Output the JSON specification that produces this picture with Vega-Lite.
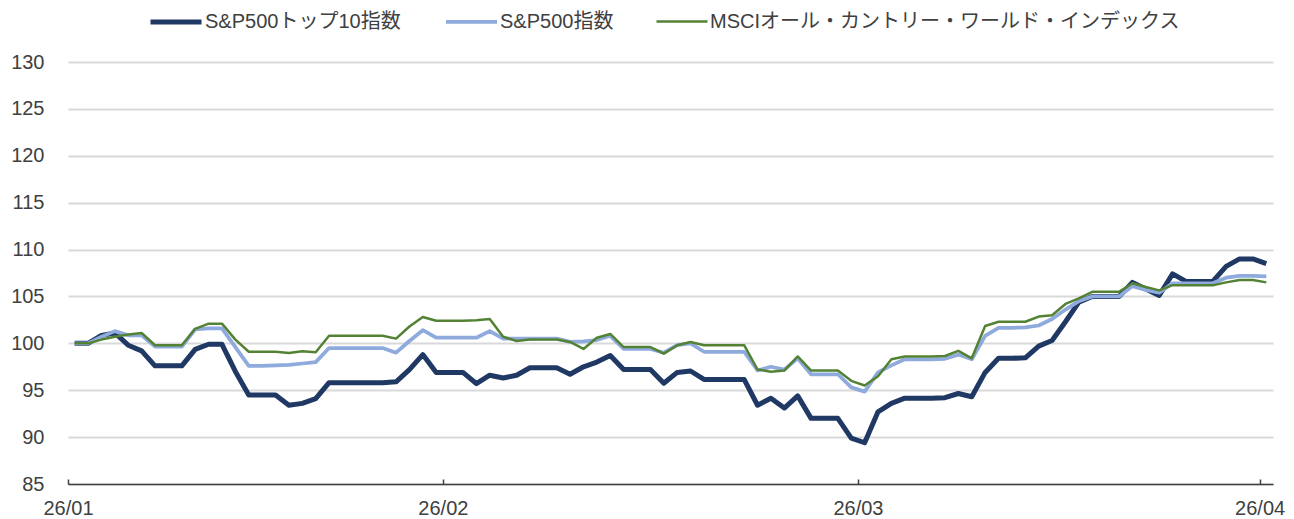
{
"$schema": "https://vega.github.io/schema/vega-lite/v6.json",
"width": 1205, "height": 422,
"autosize": "none",
"padding": {"left": 68, "top": 62, "right": 21, "bottom": 35},
"background": "white",
"config": {"view": {"stroke": null}, "font": "Liberation Sans, Arial, Noto Sans CJK JP"},
"data": {"values": [
{"t":0,"s":"S&P500トップ10指数","v":100.0},{"t":1,"s":"S&P500トップ10指数","v":100.0},{"t":2,"s":"S&P500トップ10指数","v":100.85},{"t":3,"s":"S&P500トップ10指数","v":101.1},{"t":4,"s":"S&P500トップ10指数","v":99.8},{"t":5,"s":"S&P500トップ10指数","v":99.2},{"t":6,"s":"S&P500トップ10指数","v":97.6},{"t":7,"s":"S&P500トップ10指数","v":97.6},{"t":8,"s":"S&P500トップ10指数","v":97.6},{"t":9,"s":"S&P500トップ10指数","v":99.35},
{"t":10,"s":"S&P500トップ10指数","v":99.9},{"t":11,"s":"S&P500トップ10指数","v":99.9},{"t":12,"s":"S&P500トップ10指数","v":97.0},{"t":13,"s":"S&P500トップ10指数","v":94.5},{"t":14,"s":"S&P500トップ10指数","v":94.5},{"t":15,"s":"S&P500トップ10指数","v":94.5},{"t":16,"s":"S&P500トップ10指数","v":93.4},{"t":17,"s":"S&P500トップ10指数","v":93.6},{"t":18,"s":"S&P500トップ10指数","v":94.1},{"t":19,"s":"S&P500トップ10指数","v":95.8},
{"t":20,"s":"S&P500トップ10指数","v":95.8},{"t":21,"s":"S&P500トップ10指数","v":95.8},{"t":22,"s":"S&P500トップ10指数","v":95.8},{"t":23,"s":"S&P500トップ10指数","v":95.8},{"t":24,"s":"S&P500トップ10指数","v":95.9},{"t":25,"s":"S&P500トップ10指数","v":97.2},{"t":26,"s":"S&P500トップ10指数","v":98.8},{"t":27,"s":"S&P500トップ10指数","v":96.9},{"t":28,"s":"S&P500トップ10指数","v":96.9},{"t":29,"s":"S&P500トップ10指数","v":96.9},
{"t":30,"s":"S&P500トップ10指数","v":95.7},{"t":31,"s":"S&P500トップ10指数","v":96.6},{"t":32,"s":"S&P500トップ10指数","v":96.3},{"t":33,"s":"S&P500トップ10指数","v":96.6},{"t":34,"s":"S&P500トップ10指数","v":97.4},{"t":35,"s":"S&P500トップ10指数","v":97.4},{"t":36,"s":"S&P500トップ10指数","v":97.4},{"t":37,"s":"S&P500トップ10指数","v":96.7},{"t":38,"s":"S&P500トップ10指数","v":97.5},{"t":39,"s":"S&P500トップ10指数","v":98.0},
{"t":40,"s":"S&P500トップ10指数","v":98.7},{"t":41,"s":"S&P500トップ10指数","v":97.2},{"t":42,"s":"S&P500トップ10指数","v":97.2},{"t":43,"s":"S&P500トップ10指数","v":97.2},{"t":44,"s":"S&P500トップ10指数","v":95.75},{"t":45,"s":"S&P500トップ10指数","v":96.9},{"t":46,"s":"S&P500トップ10指数","v":97.05},{"t":47,"s":"S&P500トップ10指数","v":96.15},{"t":48,"s":"S&P500トップ10指数","v":96.15},{"t":49,"s":"S&P500トップ10指数","v":96.15},
{"t":50,"s":"S&P500トップ10指数","v":96.15},{"t":51,"s":"S&P500トップ10指数","v":93.4},{"t":52,"s":"S&P500トップ10指数","v":94.15},{"t":53,"s":"S&P500トップ10指数","v":93.1},{"t":54,"s":"S&P500トップ10指数","v":94.4},{"t":55,"s":"S&P500トップ10指数","v":92.0},{"t":56,"s":"S&P500トップ10指数","v":92.0},{"t":57,"s":"S&P500トップ10指数","v":92.0},{"t":58,"s":"S&P500トップ10指数","v":89.9},{"t":59,"s":"S&P500トップ10指数","v":89.4},
{"t":60,"s":"S&P500トップ10指数","v":92.7},{"t":61,"s":"S&P500トップ10指数","v":93.6},{"t":62,"s":"S&P500トップ10指数","v":94.15},{"t":63,"s":"S&P500トップ10指数","v":94.15},{"t":64,"s":"S&P500トップ10指数","v":94.15},{"t":65,"s":"S&P500トップ10指数","v":94.2},{"t":66,"s":"S&P500トップ10指数","v":94.65},{"t":67,"s":"S&P500トップ10指数","v":94.3},{"t":68,"s":"S&P500トップ10指数","v":96.9},{"t":69,"s":"S&P500トップ10指数","v":98.4},
{"t":70,"s":"S&P500トップ10指数","v":98.4},{"t":71,"s":"S&P500トップ10指数","v":98.45},{"t":72,"s":"S&P500トップ10指数","v":99.7},{"t":73,"s":"S&P500トップ10指数","v":100.3},{"t":74,"s":"S&P500トップ10指数","v":102.3},{"t":75,"s":"S&P500トップ10指数","v":104.4},{"t":76,"s":"S&P500トップ10指数","v":105.0},{"t":77,"s":"S&P500トップ10指数","v":105.0},{"t":78,"s":"S&P500トップ10指数","v":105.0},{"t":79,"s":"S&P500トップ10指数","v":106.5},
{"t":80,"s":"S&P500トップ10指数","v":105.8},{"t":81,"s":"S&P500トップ10指数","v":105.1},{"t":82,"s":"S&P500トップ10指数","v":107.4},{"t":83,"s":"S&P500トップ10指数","v":106.6},{"t":84,"s":"S&P500トップ10指数","v":106.6},{"t":85,"s":"S&P500トップ10指数","v":106.6},{"t":86,"s":"S&P500トップ10指数","v":108.2},{"t":87,"s":"S&P500トップ10指数","v":109.0},{"t":88,"s":"S&P500トップ10指数","v":109.0},{"t":89,"s":"S&P500トップ10指数","v":108.5},
{"t":0,"s":"S&P500指数","v":100.0},{"t":1,"s":"S&P500指数","v":100.0},{"t":2,"s":"S&P500指数","v":100.7},{"t":3,"s":"S&P500指数","v":101.3},{"t":4,"s":"S&P500指数","v":100.85},{"t":5,"s":"S&P500指数","v":100.85},{"t":6,"s":"S&P500指数","v":99.65},{"t":7,"s":"S&P500指数","v":99.65},{"t":8,"s":"S&P500指数","v":99.65},{"t":9,"s":"S&P500指数","v":101.5},
{"t":10,"s":"S&P500指数","v":101.6},{"t":11,"s":"S&P500指数","v":101.6},{"t":12,"s":"S&P500指数","v":99.6},{"t":13,"s":"S&P500指数","v":97.6},{"t":14,"s":"S&P500指数","v":97.6},{"t":15,"s":"S&P500指数","v":97.65},{"t":16,"s":"S&P500指数","v":97.7},{"t":17,"s":"S&P500指数","v":97.85},{"t":18,"s":"S&P500指数","v":98.0},{"t":19,"s":"S&P500指数","v":99.5},
{"t":20,"s":"S&P500指数","v":99.5},{"t":21,"s":"S&P500指数","v":99.5},{"t":22,"s":"S&P500指数","v":99.5},{"t":23,"s":"S&P500指数","v":99.5},{"t":24,"s":"S&P500指数","v":99.0},{"t":25,"s":"S&P500指数","v":100.25},{"t":26,"s":"S&P500指数","v":101.4},{"t":27,"s":"S&P500指数","v":100.6},{"t":28,"s":"S&P500指数","v":100.6},{"t":29,"s":"S&P500指数","v":100.6},
{"t":30,"s":"S&P500指数","v":100.6},{"t":31,"s":"S&P500指数","v":101.3},{"t":32,"s":"S&P500指数","v":100.5},{"t":33,"s":"S&P500指数","v":100.5},{"t":34,"s":"S&P500指数","v":100.5},{"t":35,"s":"S&P500指数","v":100.5},{"t":36,"s":"S&P500指数","v":100.5},{"t":37,"s":"S&P500指数","v":100.15},{"t":38,"s":"S&P500指数","v":100.2},{"t":39,"s":"S&P500指数","v":100.35},
{"t":40,"s":"S&P500指数","v":100.8},{"t":41,"s":"S&P500指数","v":99.4},{"t":42,"s":"S&P500指数","v":99.4},{"t":43,"s":"S&P500指数","v":99.4},{"t":44,"s":"S&P500指数","v":99.0},{"t":45,"s":"S&P500指数","v":99.8},{"t":46,"s":"S&P500指数","v":100.0},{"t":47,"s":"S&P500指数","v":99.1},{"t":48,"s":"S&P500指数","v":99.1},{"t":49,"s":"S&P500指数","v":99.1},
{"t":50,"s":"S&P500指数","v":99.1},{"t":51,"s":"S&P500指数","v":97.1},{"t":52,"s":"S&P500指数","v":97.5},{"t":53,"s":"S&P500指数","v":97.2},{"t":54,"s":"S&P500指数","v":98.4},{"t":55,"s":"S&P500指数","v":96.7},{"t":56,"s":"S&P500指数","v":96.7},{"t":57,"s":"S&P500指数","v":96.7},{"t":58,"s":"S&P500指数","v":95.3},{"t":59,"s":"S&P500指数","v":94.85},
{"t":60,"s":"S&P500指数","v":96.9},{"t":61,"s":"S&P500指数","v":97.65},{"t":62,"s":"S&P500指数","v":98.3},{"t":63,"s":"S&P500指数","v":98.3},{"t":64,"s":"S&P500指数","v":98.3},{"t":65,"s":"S&P500指数","v":98.35},{"t":66,"s":"S&P500指数","v":98.8},{"t":67,"s":"S&P500指数","v":98.3},{"t":68,"s":"S&P500指数","v":100.8},{"t":69,"s":"S&P500指数","v":101.65},
{"t":70,"s":"S&P500指数","v":101.65},{"t":71,"s":"S&P500指数","v":101.7},{"t":72,"s":"S&P500指数","v":101.9},{"t":73,"s":"S&P500指数","v":102.6},{"t":74,"s":"S&P500指数","v":103.6},{"t":75,"s":"S&P500指数","v":104.5},{"t":76,"s":"S&P500指数","v":105.0},{"t":77,"s":"S&P500指数","v":105.0},{"t":78,"s":"S&P500指数","v":105.0},{"t":79,"s":"S&P500指数","v":106.1},
{"t":80,"s":"S&P500指数","v":105.7},{"t":81,"s":"S&P500指数","v":105.4},{"t":82,"s":"S&P500指数","v":106.4},{"t":83,"s":"S&P500指数","v":106.4},{"t":84,"s":"S&P500指数","v":106.4},{"t":85,"s":"S&P500指数","v":106.4},{"t":86,"s":"S&P500指数","v":107.0},{"t":87,"s":"S&P500指数","v":107.2},{"t":88,"s":"S&P500指数","v":107.2},{"t":89,"s":"S&P500指数","v":107.15},
{"t":0,"s":"MSCIオール・カントリー・ワールド・インデックス","v":100.0},{"t":1,"s":"MSCIオール・カントリー・ワールド・インデックス","v":100.0},{"t":2,"s":"MSCIオール・カントリー・ワールド・インデックス","v":100.4},{"t":3,"s":"MSCIオール・カントリー・ワールド・インデックス","v":100.7},{"t":4,"s":"MSCIオール・カントリー・ワールド・インデックス","v":100.95},{"t":5,"s":"MSCIオール・カントリー・ワールド・インデックス","v":101.1},{"t":6,"s":"MSCIオール・カントリー・ワールド・インデックス","v":99.8},{"t":7,"s":"MSCIオール・カントリー・ワールド・インデックス","v":99.8},{"t":8,"s":"MSCIオール・カントリー・ワールド・インデックス","v":99.8},{"t":9,"s":"MSCIオール・カントリー・ワールド・インデックス","v":101.55},
{"t":10,"s":"MSCIオール・カントリー・ワールド・インデックス","v":102.1},{"t":11,"s":"MSCIオール・カントリー・ワールド・インデックス","v":102.1},{"t":12,"s":"MSCIオール・カントリー・ワールド・インデックス","v":100.4},{"t":13,"s":"MSCIオール・カントリー・ワールド・インデックス","v":99.1},{"t":14,"s":"MSCIオール・カントリー・ワールド・インデックス","v":99.1},{"t":15,"s":"MSCIオール・カントリー・ワールド・インデックス","v":99.1},{"t":16,"s":"MSCIオール・カントリー・ワールド・インデックス","v":98.97},{"t":17,"s":"MSCIオール・カントリー・ワールド・インデックス","v":99.15},{"t":18,"s":"MSCIオール・カントリー・ワールド・インデックス","v":99.05},{"t":19,"s":"MSCIオール・カントリー・ワールド・インデックス","v":100.8},
{"t":20,"s":"MSCIオール・カントリー・ワールド・インデックス","v":100.8},{"t":21,"s":"MSCIオール・カントリー・ワールド・インデックス","v":100.8},{"t":22,"s":"MSCIオール・カントリー・ワールド・インデックス","v":100.8},{"t":23,"s":"MSCIオール・カントリー・ワールド・インデックス","v":100.8},{"t":24,"s":"MSCIオール・カントリー・ワールド・インデックス","v":100.5},{"t":25,"s":"MSCIオール・カントリー・ワールド・インデックス","v":101.8},{"t":26,"s":"MSCIオール・カントリー・ワールド・インデックス","v":102.8},{"t":27,"s":"MSCIオール・カントリー・ワールド・インデックス","v":102.4},{"t":28,"s":"MSCIオール・カントリー・ワールド・インデックス","v":102.4},{"t":29,"s":"MSCIオール・カントリー・ワールド・インデックス","v":102.4},
{"t":30,"s":"MSCIオール・カントリー・ワールド・インデックス","v":102.45},{"t":31,"s":"MSCIオール・カントリー・ワールド・インデックス","v":102.6},{"t":32,"s":"MSCIオール・カントリー・ワールド・インデックス","v":100.7},{"t":33,"s":"MSCIオール・カントリー・ワールド・インデックス","v":100.25},{"t":34,"s":"MSCIオール・カントリー・ワールド・インデックス","v":100.4},{"t":35,"s":"MSCIオール・カントリー・ワールド・インデックス","v":100.4},{"t":36,"s":"MSCIオール・カントリー・ワールド・インデックス","v":100.4},{"t":37,"s":"MSCIオール・カントリー・ワールド・インデックス","v":100.15},{"t":38,"s":"MSCIオール・カントリー・ワールド・インデックス","v":99.4},{"t":39,"s":"MSCIオール・カントリー・ワールド・インデックス","v":100.6},
{"t":40,"s":"MSCIオール・カントリー・ワールド・インデックス","v":101.0},{"t":41,"s":"MSCIオール・カントリー・ワールド・インデックス","v":99.6},{"t":42,"s":"MSCIオール・カントリー・ワールド・インデックス","v":99.6},{"t":43,"s":"MSCIオール・カントリー・ワールド・インデックス","v":99.6},{"t":44,"s":"MSCIオール・カントリー・ワールド・インデックス","v":98.9},{"t":45,"s":"MSCIオール・カントリー・ワールド・インデックス","v":99.8},{"t":46,"s":"MSCIオール・カントリー・ワールド・インデックス","v":100.15},{"t":47,"s":"MSCIオール・カントリー・ワールド・インデックス","v":99.8},{"t":48,"s":"MSCIオール・カントリー・ワールド・インデックス","v":99.8},{"t":49,"s":"MSCIオール・カントリー・ワールド・インデックス","v":99.8},
{"t":50,"s":"MSCIオール・カントリー・ワールド・インデックス","v":99.8},{"t":51,"s":"MSCIオール・カントリー・ワールド・インデックス","v":97.2},{"t":52,"s":"MSCIオール・カントリー・ワールド・インデックス","v":96.98},{"t":53,"s":"MSCIオール・カントリー・ワールド・インデックス","v":97.1},{"t":54,"s":"MSCIオール・カントリー・ワールド・インデックス","v":98.6},{"t":55,"s":"MSCIオール・カントリー・ワールド・インデックス","v":97.1},{"t":56,"s":"MSCIオール・カントリー・ワールド・インデックス","v":97.1},{"t":57,"s":"MSCIオール・カントリー・ワールド・インデックス","v":97.1},{"t":58,"s":"MSCIオール・カントリー・ワールド・インデックス","v":96.0},{"t":59,"s":"MSCIオール・カントリー・ワールド・インデックス","v":95.5},
{"t":60,"s":"MSCIオール・カントリー・ワールド・インデックス","v":96.5},{"t":61,"s":"MSCIオール・カントリー・ワールド・インデックス","v":98.3},{"t":62,"s":"MSCIオール・カントリー・ワールド・インデックス","v":98.6},{"t":63,"s":"MSCIオール・カントリー・ワールド・インデックス","v":98.6},{"t":64,"s":"MSCIオール・カントリー・ワールド・インデックス","v":98.6},{"t":65,"s":"MSCIオール・カントリー・ワールド・インデックス","v":98.65},{"t":66,"s":"MSCIオール・カントリー・ワールド・インデックス","v":99.2},{"t":67,"s":"MSCIオール・カントリー・ワールド・インデックス","v":98.4},{"t":68,"s":"MSCIオール・カントリー・ワールド・インデックス","v":101.85},{"t":69,"s":"MSCIオール・カントリー・ワールド・インデックス","v":102.3},
{"t":70,"s":"MSCIオール・カントリー・ワールド・インデックス","v":102.3},{"t":71,"s":"MSCIオール・カントリー・ワールド・インデックス","v":102.3},{"t":72,"s":"MSCIオール・カントリー・ワールド・インデックス","v":102.85},{"t":73,"s":"MSCIオール・カントリー・ワールド・インデックス","v":103.0},{"t":74,"s":"MSCIオール・カントリー・ワールド・インデックス","v":104.2},{"t":75,"s":"MSCIオール・カントリー・ワールド・インデックス","v":104.8},{"t":76,"s":"MSCIオール・カントリー・ワールド・インデックス","v":105.5},{"t":77,"s":"MSCIオール・カントリー・ワールド・インデックス","v":105.5},{"t":78,"s":"MSCIオール・カントリー・ワールド・インデックス","v":105.5},{"t":79,"s":"MSCIオール・カントリー・ワールド・インデックス","v":106.4},
{"t":80,"s":"MSCIオール・カントリー・ワールド・インデックス","v":106.0},{"t":81,"s":"MSCIオール・カントリー・ワールド・インデックス","v":105.65},{"t":82,"s":"MSCIオール・カントリー・ワールド・インデックス","v":106.2},{"t":83,"s":"MSCIオール・カントリー・ワールド・インデックス","v":106.2},{"t":84,"s":"MSCIオール・カントリー・ワールド・インデックス","v":106.2},{"t":85,"s":"MSCIオール・カントリー・ワールド・インデックス","v":106.2},{"t":86,"s":"MSCIオール・カントリー・ワールド・インデックス","v":106.5},{"t":87,"s":"MSCIオール・カントリー・ワールド・インデックス","v":106.75},{"t":88,"s":"MSCIオール・カントリー・ワールド・インデックス","v":106.75},{"t":89,"s":"MSCIオール・カントリー・ワールド・インデックス","v":106.5}
]},
"mark": {"type": "line", "strokeJoin": "round"},
"encoding": {
  "x": {"field": "t", "type": "quantitative",
        "scale": {"domain": [-0.5, 89.5], "nice": false, "zero": false},
        "axis": {"title": null, "values": [-0.5, 27.5, 58.5, 88.5],
                 "labelExpr": "datum.value < 0 ? '26/01' : datum.value < 30 ? '26/02' : datum.value < 60 ? '26/03' : '26/04'",
                 "grid": false, "domainColor": "#404040", "domainWidth": 1.5,
                 "tickColor": "#404040", "tickWidth": 1.5, "tickSize": -5,
                 "labelFontSize": 20, "labelColor": "#404040", "labelPadding": 19,
                 "labelFlush": false, "labelOverlap": false}},
  "y": {"field": "v", "type": "quantitative",
        "scale": {"domain": [85, 130], "nice": false, "zero": false},
        "axis": {"title": null, "values": [85, 90, 95, 100, 105, 110, 115, 120, 125, 130],
                 "domain": false, "ticks": false, "gridColor": "#d9d9d9", "gridWidth": 2,
                 "labelFontSize": 20, "labelColor": "#404040", "labelPadding": 24}},
  "color": {"field": "s", "type": "nominal",
            "scale": {"domain": ["S&P500トップ10指数", "S&P500指数", "MSCIオール・カントリー・ワールド・インデックス"],
                      "range": ["#1f3864", "#8faadc", "#548235"]},
            "legend": {"title": null, "orient": "none", "legendX": 80, "legendY": -68, "direction": "horizontal",
                       "symbolType": "stroke", "symbolSize": 2601, "labelFontSize": 20, "labelColor": "#404040",
                       "labelOffset": 1, "columnPadding": 37, "labelLimit": 600}},
  "strokeWidth": {"field": "s", "type": "nominal",
            "scale": {"domain": ["S&P500トップ10指数", "S&P500指数", "MSCIオール・カントリー・ワールド・インデックス"],
                      "range": [5, 2.5, 2.5]},
            "legend": {"title": null, "orient": "none", "legendX": 80, "legendY": -68, "direction": "horizontal",
                       "symbolType": "stroke", "symbolSize": 2601, "labelFontSize": 20, "labelColor": "#404040",
                       "labelOffset": 1, "columnPadding": 37, "labelLimit": 600}}
}
}
